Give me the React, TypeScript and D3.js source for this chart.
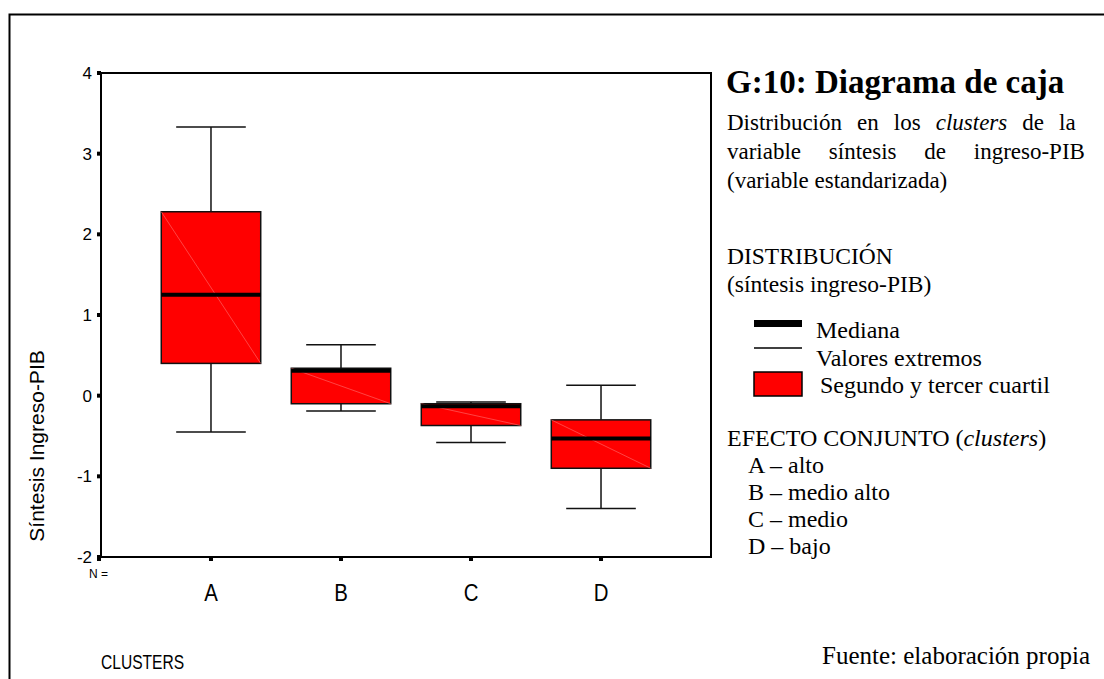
import React from "react";
import * as d3 from "d3";

// clusters and box statistics
const categories = ["A", "B", "C", "D"];
const whiskerHigh = [3.33, 0.63, -0.08, 0.13];
const q3 = [2.28, 0.34, -0.1, -0.3];
const median = [1.25, 0.31, -0.13, -0.53];
const q1 = [0.4, -0.1, -0.37, -0.9];
const whiskerLow = [-0.45, -0.19, -0.58, -1.4];
const yTicks = [-2, -1, 0, 1, 2, 3, 4];

const legendItems = ["Mediana", "Valores extremos", "Segundo y tercer cuartil"];
const clusterNames = ["A – alto", "B – medio alto", "C – medio", "D – bajo"];

const W = 1104;
const H = 679;
const plot = { left: 101, right: 711, top: 73, bottom: 557 };
const sans = "'Liberation Sans', Arial, sans-serif";
const serif = "'Liberation Serif', 'Times New Roman', serif";
const tx = 727; // left edge of the text column

export default function App() {
    const x = d3
        .scaleBand<string>()
        .domain(categories)
        .range([plot.left, plot.right])
        .paddingInner(0.235)
        .paddingOuter(0.4635);

    const y = d3.scaleLinear().domain([-2, 4]).range([plot.bottom, plot.top]);

    const bw = x.bandwidth();
    const cap = bw * 0.7;

    return (
        <svg
            width={W}
            height={H}
            style={{ position: "absolute", left: 0, top: 0, background: "#fff" }}
        >
            {/* outer frame */}
            <path d={`M9.5,${H} V14.5 H${W}`} fill="none" stroke="#000" strokeWidth={2} />

            {/* boxes */}
            {categories.map((c, i) => {
                const x0 = x(c) as number;
                const cx = x0 + bw / 2;
                return (
                    <g key={c}>
                        <line x1={cx} x2={cx} y1={y(whiskerHigh[i])} y2={y(q3[i])} stroke="#111" strokeWidth={1.5} />
                        <line x1={cx} x2={cx} y1={y(q1[i])} y2={y(whiskerLow[i])} stroke="#111" strokeWidth={1.5} />
                        <line x1={cx - cap / 2} x2={cx + cap / 2} y1={y(whiskerHigh[i])} y2={y(whiskerHigh[i])} stroke="#111" strokeWidth={1.5} />
                        <line x1={cx - cap / 2} x2={cx + cap / 2} y1={y(whiskerLow[i])} y2={y(whiskerLow[i])} stroke="#111" strokeWidth={1.5} />
                        <rect
                            x={x0}
                            y={y(q3[i])}
                            width={bw}
                            height={y(q1[i]) - y(q3[i])}
                            fill="#ff0000"
                            stroke="#111"
                            strokeWidth={1.5}
                        />
                        <line x1={x0} y1={y(q3[i])} x2={x0 + bw} y2={y(q1[i])} stroke="#ff7070" strokeWidth={0.6} />
                        <line x1={x0} x2={x0 + bw} y1={y(median[i])} y2={y(median[i])} stroke="#000" strokeWidth={4} />
                    </g>
                );
            })}

            {/* plot frame */}
            <rect
                x={plot.left}
                y={plot.top}
                width={plot.right - plot.left}
                height={plot.bottom - plot.top}
                fill="none"
                stroke="#000"
                strokeWidth={2}
            />

            {/* y axis */}
            {yTicks.map((t) => (
                <g key={t}>
                    <rect x={plot.left - 4} y={y(t) - 2} width={4} height={4} fill="#000" />
                    <text
                        x={plot.left - 9}
                        y={y(t)}
                        dy="0.36em"
                        textAnchor="end"
                        fontFamily={sans}
                        fontSize={17}
                    >
                        {t}
                    </text>
                </g>
            ))}
            <text
                transform={`translate(44,446) rotate(-90)`}
                textAnchor="middle"
                fontFamily={sans}
                fontSize={21}
            >
                Síntesis Ingreso-PIB
            </text>

            {/* x axis */}
            <rect x={plot.left - 4} y={plot.bottom} width={4} height={4} fill="#000" />
            {categories.map((c) => {
                const cx = (x(c) as number) + bw / 2;
                return (
                    <g key={c}>
                        <rect x={cx - 2} y={plot.bottom} width={4} height={4} fill="#000" />
                        <text
                            transform={`translate(${cx},601) scale(0.85,1)`}
                            textAnchor="middle"
                            fontFamily={sans}
                            fontSize={24}
                        >
                            {c}
                        </text>
                    </g>
                );
            })}
            <text x={89} y={578} fontFamily={sans} fontSize={12}>
                N =
            </text>
            <text transform="translate(101,669) scale(0.8,1)" fontFamily={sans} fontSize={19.5}>
                CLUSTERS
            </text>

            {/* right panel */}
            <text x={tx - 1} y={93} fontFamily={serif} fontSize={33} fontWeight="bold">
                G:10: Diagrama de caja
            </text>
            <text fontFamily={serif} fontSize={23}>
                <tspan x={tx} y={130} wordSpacing={9.3}>
                    Distribución en los <tspan fontStyle="italic">clusters</tspan> de la
                </tspan>
                <tspan x={tx} y={159} wordSpacing={22}>
                    variable síntesis de ingreso-PIB
                </tspan>
                <tspan x={tx} y={188}>
                    (variable estandarizada)
                </tspan>
            </text>

            <text fontFamily={serif} fontSize={23.5}>
                <tspan x={tx} y={264}>DISTRIBUCIÓN</tspan>
                <tspan x={tx} y={292}>(síntesis ingreso-PIB)</tspan>
            </text>

            <rect x={754} y={320} width={48} height={7} fill="#000" />
            <line x1={754} x2={802} y1={348} y2={348} stroke="#000" strokeWidth={1.5} />
            <rect x={754} y={372} width={48} height={24} fill="#ff0000" stroke="#000" strokeWidth={1.5} />
            {legendItems.map((t, i) => (
                <text key={t} x={i === 2 ? 820 : 816} y={338 + i * 27.5} fontFamily={serif} fontSize={24}>
                    {t}
                </text>
            ))}

            <text x={tx} y={446} fontFamily={serif} fontSize={24}>
                EFECTO CONJUNTO (<tspan fontStyle="italic">clusters</tspan>)
            </text>
            {clusterNames.map((t, i) => (
                <text key={t} x={748} y={473 + i * 27} fontFamily={serif} fontSize={24}>
                    {t}
                </text>
            ))}

            <text x={1090} y={664} textAnchor="end" fontFamily={serif} fontSize={25}>
                Fuente: elaboración propia
            </text>
        </svg>
    );
}
